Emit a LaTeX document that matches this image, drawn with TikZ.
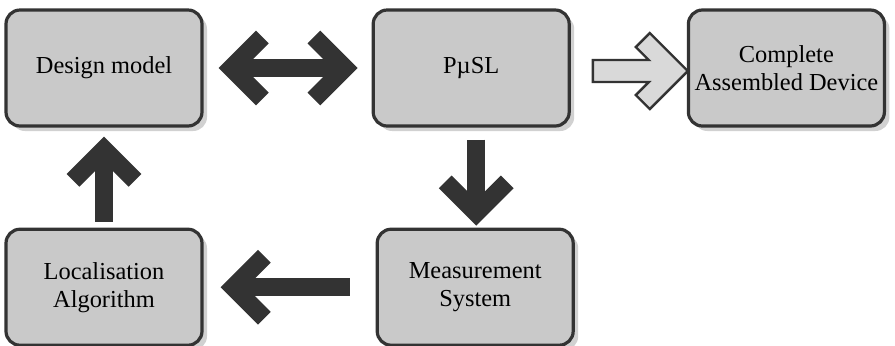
\documentclass[tikz,border=0pt]{standalone}
\usepackage{fontspec}
\setmainfont{Liberation Serif}
\newfontfamily\boxfont{Liberation Serif}
\usetikzlibrary{arrows.meta,positioning,shadows}

\begin{document}
\begin{tikzpicture}[
  x=0.5pt, y=-0.5pt,
  box/.style={draw=black!80, line width=1.6pt, rounded corners=7pt, align=center,
              font=\boxfont\fontsize{12.2}{14}\selectfont, minimum width=98pt, minimum height=58pt,
              inner sep=0pt, fill=black!21,
              drop shadow={shadow xshift=2.5pt, shadow yshift=-2.5pt, fill=black!30, opacity=.6}},
  fat/.style={line width=9pt, draw=black!80, -{Straight Barb[length=15.5pt]}},
  fatboth/.style={fat, {Straight Barb[length=15.5pt]}-{Straight Barb[length=15.5pt]}},
  hollow/.style={draw=black!80, line width=1.2pt, fill=black!15, line join=miter}
]
\useasboundingbox (0,0) rectangle (895,345);

\node[box] (design) at (104,68) {Design model};
\node[box, right=84pt of design] (pusl) {PµSL};
\node[box, right=58pt of pusl] (done) {Complete\\Assembled Device};
\node[box, below=50pt of design] (local) {Localisation\\Algorithm};
\node[box, below=50pt of pusl, xshift=2pt] (meas) {Measurement\\System};

\draw[fatboth] ([xshift=7.5pt]design.east) -- ([xshift=-7pt]pusl.west);
\draw[fat] ([xshift=2.5pt,yshift=-6pt]pusl.south) -- ([xshift=0.5pt,yshift=1pt]meas.north);
\draw[fat] ([xshift=-13pt]meas.west) -- ([xshift=8.5pt]local.east);
\draw[fat] ([yshift=3pt]local.north) -- ([yshift=-4.5pt]design.south);
% open arrow towards the finished device
\draw[hollow] ([xshift=11pt,yshift=-1pt]pusl.east) ++(0,-10) -- ++(56,0) -- ++(-13,-13)
  -- ++(14,-14) -- ++(38,38) -- ++(-38,38) -- ++(-14,-14) -- ++(13,-13) -- ++(-56,0) -- cycle;
\end{tikzpicture}
\end{document}
